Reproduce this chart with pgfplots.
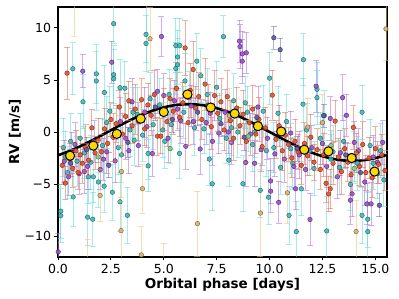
\documentclass[border=0pt]{standalone}
\usepackage{fontspec}
\setmainfont{DejaVu Sans}
\usepackage{pgfplots}
\usepackage{pgfplotstable}
\pgfplotsset{compat=1.18}

\definecolor{cteal}{HTML}{3CB9BA}
\definecolor{cteale}{HTML}{5FDCDC}
\definecolor{cpurp}{HTML}{9A4FD0}
\definecolor{cpurpe}{HTML}{B26CE6}
\definecolor{cred}{HTML}{E4522A}
\definecolor{crede}{HTML}{EE6A4A}
\definecolor{cblue}{HTML}{5A5AA5}
\definecolor{cbluee}{HTML}{6E6EB8}
\definecolor{cgold}{HTML}{D9B468}
\definecolor{cgolde}{HTML}{F0C272}
\definecolor{cgreen}{HTML}{7DD17D}
\definecolor{cgreene}{HTML}{90E090}
\definecolor{cyell}{HTML}{FFD700}

\pgfplotstableread{
x y e
0.2 -3.2 1.8
0.35 -4.9 1.6
0.43 5.65 2.5
0.55 -2.6 1.5
0.7 -3.5 1.8
0.85 -1.8 2.0
0.95 -3.9 1.6
1.05 -2.2 1.7
1.15 -3.0 1.9
1.3 -1.5 2.2
1.45 -2.7 1.5
1.6 0.4 1.8
1.75 -2.0 1.6
1.9 -0.8 2.1
2.05 -1.9 1.7
2.2 0.3 2.0
2.35 -1.1 1.9
2.5 1.2 1.6
2.6 -0.5 2.3
2.75 0.8 1.8
2.9 2.4 1.6
3.05 -0.2 2.0
3.2 1.5 2.2
3.35 3.0 1.9
3.5 0.6 1.7
3.65 2.2 2.4
3.8 1.0 1.8
3.95 3.1 2.0
4.1 0.3 1.6
4.25 2.6 2.1
4.4 1.6 1.9
4.55 3.6 2.3
4.7 -0.4 1.8
4.86 -0.4 1.7
5.0 2.2 2.0
5.15 1.0 2.4
5.3 3.2 1.9
5.45 2.0 2.2
5.6 4.2 2.5
5.75 1.4 1.8
5.9 2.8 2.0
6.01 8.07 2.6
6.15 0.9 2.2
6.25 4.0 2.6
6.39 6.0 2.7
6.5 2.3 2.1
6.65 3.4 2.3
6.8 1.2 1.9
6.95 4.6 2.5
7.1 2.6 2.0
7.25 0.5 2.2
7.4 3.5 2.4
7.55 1.8 1.7
7.7 2.9 2.2
7.85 0.2 2.0
8.0 3.4 2.5
8.15 1.1 1.9
8.3 -0.6 2.1
8.45 2.3 2.0
8.6 0.6 1.8
8.75 1.7 2.3
8.9 -0.9 2.0
9.05 0.9 1.7
9.2 2.2 2.3
9.35 -0.2 1.9
9.5 1.2 2.1
9.65 -1.4 1.8
9.8 0.4 2.0
10.13 3.54 2.4
10.3 -0.7 1.8
10.45 0.6 2.0
10.6 -1.8 1.9
10.75 -0.3 2.2
10.9 -1.2 1.6
11.05 -2.5 1.9
11.2 -0.9 2.1
11.35 -1.9 1.7
11.5 -3.2 1.8
11.65 -1.1 2.0
11.8 -2.3 1.9
11.95 -0.5 2.2
12.1 -2.9 1.7
12.25 -1.7 2.0
12.4 -3.6 1.9
12.55 -2.2 2.1
12.67 -4.93 1.8
12.79 -5.94 1.7
12.87 -5.45 1.9
13.0 -3.0 2.0
13.1 1.05 2.0
13.25 -2.4 1.8
13.4 -3.8 2.2
13.55 -1.6 1.9
13.7 -2.9 1.8
13.85 -4.1 2.0
13.96 0.44 2.1
14.1 -2.0 1.9
14.25 -3.3 1.8
14.4 -1.2 2.2
14.55 -3.9 1.7
14.7 -2.5 2.0
14.85 -4.4 1.9
15.0 -1.6 2.1
15.15 -3.1 1.8
15.3 -2.2 2.0
15.45 -3.7 1.9
}\redtab

\pgfplotstableread{
x y e
0.01 -11.5 1.8
0.3 -2.8 2.0
0.5 -4.3 1.8
0.65 -2.0 2.0
0.8 -1.2 2.1
1.0 -4.0 2.0
1.17 5.84 1.6
1.25 -3.8 2.1
1.4 -3.3 2.2
1.7 -0.9 2.0
2.0 -3.6 1.9
2.15 -2.6 2.0
2.3 -1.9 2.1
2.54 6.7 2.0
2.7 -2.77 2.1
2.95 1.0 2.3
3.2 -0.6 2.0
3.35 -1.8 2.2
3.5 2.9 2.2
3.8 -1.3 2.0
4.1 1.9 2.4
4.2 0.5 2.0
4.46 -2.06 2.2
4.7 3.9 2.1
4.89 9.17 1.9
5.0 3.5 2.1
5.2 -0.6 2.3
5.5 3.0 2.0
5.65 2.2 2.0
5.8 1.1 2.2
6.04 -1.37 2.2
6.3 2.5 2.0
6.4 1.0 2.2
6.72 -1.63 2.4
7.0 0.9 2.1
7.2 1.8 2.0
7.3 -0.9 2.3
7.6 -0.1 2.0
7.9 1.9 2.2
8.05 0.0 2.1
8.2 -1.0 2.1
8.58 8.72 2.0
8.6 8.2 2.1
8.71 7.5 2.2
8.9 7.6 2.0
8.71 6.8 2.1
8.87 -2.93 2.3
9.1 -0.2 2.0
9.29 -3.0 2.2
9.45 2.4 2.0
9.6 -1.7 2.1
9.9 -0.6 2.0
10.05 -4.7 2.2
10.05 -5.68 2.0
10.25 -2.1 2.2
10.43 -6.75 2.0
10.7 -2.6 2.2
11.0 -0.1 2.1
11.15 -3.3 2.0
11.23 -5.45 2.0
11.4 -2.2 2.3
11.7 -3.6 2.0
11.91 -8.4 2.5
12.0 -1.5 2.1
12.2 4.4 2.5
12.5 -1.1 2.0
12.7 -3.3 2.0
12.87 1.3 2.1
13.2 -4.3 2.1
13.35 -2.0 2.2
13.45 3.3 2.2
13.63 1.6 2.0
13.82 -6.55 2.3
13.9 -5.94 2.2
14.0 -1.0 2.0
14.2 -1.8 2.1
14.5 -4.8 2.2
14.6 -6.9 2.0
14.8 -6.9 2.1
14.9 -2.4 2.1
15.1 -2.9 2.0
15.35 -1.0 2.1
}\purptab

\pgfplotstableread{
x y e
0.13 -7.6 2.6
0.13 -8.04 2.6
0.25 -1.5 2.8
0.35 -2.4 2.5
0.45 -3.9 2.5
0.6 -0.9 2.7
0.70 6.07 2.5
0.72 -6.23 2.8
0.9 -2.8 2.4
1.05 -0.6 2.4
1.18 2.9 2.6
1.25 -2.0 2.5
1.4 -8.17 2.7
1.43 -4.3 2.6
1.55 -2.9 2.6
1.64 -8.37 2.6
1.67 -4.3 2.5
1.81 5.58 2.8
1.81 4.9 2.8
1.91 -4.8 2.4
2.1 -1.3 2.6
2.18 -5.2 2.5
2.19 3.8 2.6
2.3 0.9 2.5
2.45 2.0 2.4
2.57 -5.78 2.7
2.63 10.4 1.9
2.63 5.5 2.8
2.63 5.1 2.8
2.85 -1.5 2.6
2.93 4.25 2.7
2.93 -6.7 2.8
3.0 -2.2 2.6
3.16 4.2 2.6
3.28 -8.0 2.7
3.4 0.2 2.5
3.55 1.9 2.4
3.6 -0.8 2.4
3.75 1.7 2.6
4.0 -0.3 2.5
4.16 9.37 2.7
4.16 8.5 2.7
4.26 -2.06 2.5
4.26 -3.25 2.5
4.35 3.2 2.5
4.5 0.7 2.4
4.8 2.6 2.5
4.95 0.2 2.6
5.05 -0.9 2.6
5.25 3.6 2.4
5.35 0.7 2.4
5.57 8.3 2.6
5.76 8.3 2.6
5.65 7.2 2.6
5.57 6.1 2.5
5.65 6.45 2.5
5.74 -2.06 2.4
5.95 1.9 2.5
6.0 4.9 2.6
6.2 3.3 2.5
6.45 0.4 2.6
6.56 6.8 2.7
6.75 5.4 2.6
6.9 0.3 2.4
7.05 3.6 2.5
7.15 -2.6 2.5
7.29 -4.97 2.6
7.5 4.3 2.5
7.65 1.3 2.4
7.82 9.15 2.0
7.95 -0.6 2.4
8.08 -2.7 2.5
8.2 0.4 2.6
8.3 3.0 2.6
8.5 0.0 2.4
8.74 -4.97 2.7
8.85 2.8 2.5
8.95 1.9 2.5
9.2 -1.2 2.6
9.3 0.0 2.4
9.56 -5.6 2.6
9.7 2.0 2.5
9.85 -1.8 2.5
9.95 -6.26 2.6
10.0 5.17 2.5
10.2 -1.5 2.4
10.4 1.8 2.6
10.52 -3.4 2.6
10.8 1.0 2.6
10.92 -8.0 2.8
11.0 -1.6 2.4
11.1 -3.0 2.5
11.26 -9.56 2.9
11.5 -5.45 2.6
11.58 2.67 2.5
11.6 6.94 2.5
11.75 0.2 2.5
11.9 -1.8 2.4
12.1 -3.5 2.6
12.24 3.3 2.6
12.24 4.1 2.6
12.4 -0.6 2.5
12.59 1.57 2.4
12.7 -9.5 3.3
12.9 -2.6 2.4
13.0 -1.9 2.5
13.3 -3.4 2.6
13.5 -0.9 2.5
13.82 -5.03 2.5
14.0 -2.3 2.4
14.15 -3.0 2.6
14.37 1.9 2.6
14.37 -8.0 2.7
14.64 -8.37 2.7
14.64 -9.56 3.8
14.75 -1.3 2.5
14.9 -3.0 2.5
15.1 -4.0 2.4
15.25 -1.8 2.6
15.4 -4.6 2.5
}\tealtab

\pgfplotstableread{
x y e
0.6 -3.0 1.3
1.35 -1.7 1.2
2.4 -3.2 1.2
3.3 -1.0 1.4
4.6 2.4 1.3
5.4 1.2 1.2
6.6 1.9 1.3
7.7 0.8 1.2
8.8 -0.5 1.3
9.4 1.4 1.1
10.2 9.05 1.1
10.5 7.9 1.1
11.3 -1.6 1.2
12.55 1.57 1.1
13.6 -2.2 1.2
14.3 -3.9 1.3
15.19 -7.04 1.1
}\bluetab

\pgfplotstableread{
x y e
0.76 14.0 4.8
1.4 -13.0 2.7
1.99 -6.1 2.5
2.98 -9.47 2.8
3.0 -3.8 2.5
3.94 -11.8 2.7
3.99 -5.45 2.35
4.35 8.95 3.0
5.0 -13.5 2.8
6.59 -8.8 3.1
8.1 1.6 2.6
9.57 -7.78 4.2
10.84 -5.84 2.9
11.8 0.47 2.8
12.5 0.9 2.7
14.09 -9.56 3.0
15.5 9.9 3.0
}\goldtab

\pgfplotstableread{
x y e
1.9 -2.4 1.5
5.3 -1.6 1.4
9.0 -0.4 1.5
12.9 -1.3 1.5
14.0 -3.5 1.4
}\greentab

\pgfplotstableread{
x y
0.0 -2.234
0.5 -1.863
1.0 -1.418
1.5 -0.917
2.0 -0.380
2.5 0.170
3.0 0.712
3.5 1.222
4.0 1.680
4.5 2.067
5.0 2.367
5.5 2.569
6.0 2.663
6.5 2.646
7.0 2.519
7.5 2.286
8.0 1.960
8.5 1.549
9.0 1.073
9.5 0.553
10.0 0.005
10.5 -0.543
11.0 -1.072
11.5 -1.560
12.0 -1.983
12.5 -2.326
13.0 -2.582
13.5 -2.731
14.0 -2.769
14.5 -2.692
15.0 -2.505
15.5 -2.225
}\modeltab

\pgfplotstableread{
x y
0.57 -2.28
1.67 -1.31
2.78 -0.18
3.91 1.28
5.00 1.92
6.12 3.61
7.22 2.35
8.35 1.77
9.45 0.56
10.55 0.05
11.64 -1.70
12.78 -1.86
13.88 -2.50
14.96 -3.80
}\bintab

\pgfplotsset{
  scat/.style 2 args={only marks, mark=*, mark size=2.3pt,
    mark options={fill=#1, draw=#1!45!black, line width=0.4pt, opacity=0.9},
    error bars/y dir=both, error bars/y explicit, error bars/error mark=none,
    error bars/error bar style={color=#2, line width=0.8pt, opacity=0.55}},
  cap/.style={only marks, mark=-, mark size=3pt,
    mark options={draw=#1, line width=0.8pt, opacity=0.55}},
}
\newcommand{\series}[3]{%
  \addplot[cap=#3] table[x=x, y expr=\thisrow{y}+\thisrow{e}] {#1};
  \addplot[cap=#3] table[x=x, y expr=\thisrow{y}-\thisrow{e}] {#1};
  \addplot[scat={#2}{#3}] table[x=x, y=y, y error=e] {#1};
}

\begin{document}
\begin{tikzpicture}
\path[use as bounding box] (-58pt,-42pt) rectangle (341pt,257pt);
\begin{axis}[
  at={(0,0)}, anchor=south west,
  scale only axis, width=329pt, height=250pt,
  xmin=0, xmax=15.55, ymin=-12, ymax=12,
  xtick={0,2.5,5,7.5,10,12.5,15},
  xticklabels={0.0,2.5,5.0,7.5,10.0,12.5,15.0},
  ytick={-10,-5,0,5,10},
  yticklabels={−10,−5,0,5,10},
  xtick pos=lower, ytick pos=left,
  tick align=outside, major tick length=3.5pt,
  tick style={black, line width=0.8pt},
  axis line style={line width=1.2pt},
  tick label style={font=\fontsize{12.5}{14}\selectfont},
  xlabel={Orbital phase [days]}, ylabel={RV [m/s]},
  label style={font=\bfseries\fontsize{13.5}{15}\selectfont},
  xlabel style={anchor=center, at={(axis description cs:0.5,0)}, yshift=-28pt},
  ylabel style={anchor=center, at={(axis description cs:0,0.5)}, yshift=43pt},
  clip=true,
]
\series{\tealtab}{cteal}{cteale}
\series{\purptab}{cpurp}{cpurpe}
\series{\goldtab}{cgold}{cgolde}
\series{\redtab}{cred}{crede}
\series{\bluetab}{cblue}{cbluee}
\series{\greentab}{cgreen}{cgreene}
\addplot[black, line width=2.6pt, smooth, no marks] table[x=x, y=y] {\modeltab};
\addplot[only marks, mark=*, mark size=4.6pt, mark options={fill=cyell, draw=black, line width=1pt}] table[x=x, y=y] {\bintab};
\end{axis}
\end{tikzpicture}
\end{document}
